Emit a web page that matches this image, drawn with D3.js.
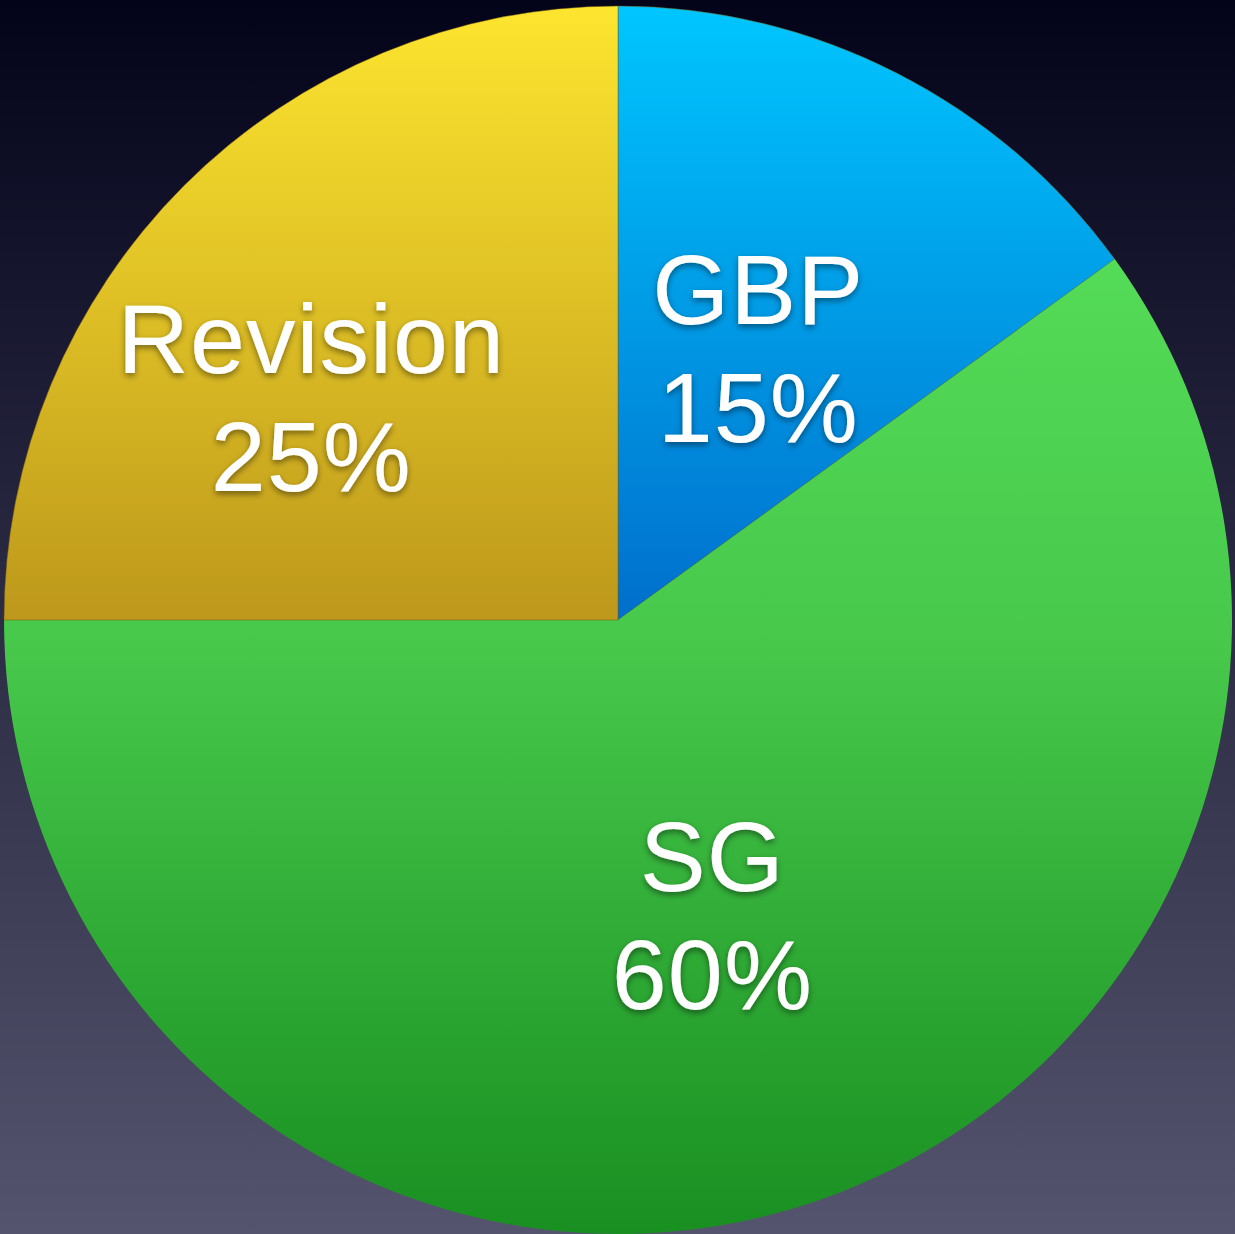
<!DOCTYPE html>
<html>
<head>
<meta charset="utf-8">
<script src="https://cdn.jsdelivr.net/npm/d3@7"></script>
<style>
  html, body { margin: 0; padding: 0; overflow: hidden; }
  body { width: 1235px; height: 1234px; }
</style>
</head>
<body>
<div class="chart"></div>
<script>
// data
const categories = ["GBP", "SG", "Revision"];
const shares = [15, 60, 25];
const labels = ["15%", "60%", "25%"];

// slice gradient colours (top, bottom)
const topColors = ["#00c6ff", "#54db57", "#fde52f"];
const bottomColors = ["#006fcc", "#198f21", "#bd981b"];
// small nudges so labels sit where the original put them
const nudge = [[-13, 30], [-10, -25], [-68, 17]];

const width = 1235, height = 1234;
const cx = 618, cy = 620, radius = 614;

const svg = d3.select(".chart").append("svg")
    .attr("width", width)
    .attr("height", height);

const defs = svg.append("defs");

const bg = defs.append("linearGradient")
    .attr("id", "bg")
    .attr("x1", 0).attr("y1", 0).attr("x2", 0).attr("y2", 1);
bg.append("stop").attr("offset", "0%").attr("stop-color", "#03031a");
bg.append("stop").attr("offset", "100%").attr("stop-color", "#55546e");

categories.forEach((c, i) => {
    const g = defs.append("linearGradient")
        .attr("id", "grad" + i)
        .attr("x1", 0).attr("y1", 0).attr("x2", 0).attr("y2", 1);
    g.append("stop").attr("offset", "0%").attr("stop-color", topColors[i]);
    if (c === "SG") {
        // green stays bright longer before darkening
        g.append("stop").attr("offset", "40%").attr("stop-color", "#47c84b");
    }
    g.append("stop").attr("offset", "100%").attr("stop-color", bottomColors[i]);
});

const shadow = defs.append("filter")
    .attr("id", "shadow")
    .attr("x", "-20%").attr("y", "-20%")
    .attr("width", "140%").attr("height", "140%");
shadow.append("feDropShadow")
    .attr("dx", 0).attr("dy", 3)
    .attr("stdDeviation", 3)
    .attr("flood-color", "#000")
    .attr("flood-opacity", 0.45);

svg.append("rect")
    .attr("width", width)
    .attr("height", height)
    .attr("fill", "url(#bg)");

const g = svg.append("g")
    .attr("transform", "translate(" + cx + "," + cy + ")");

const pie = d3.pie().sort(null).value(d => d.value);
const data = categories.map((c, i) => ({name: c, value: shares[i], label: labels[i], i: i}));
const arcs = pie(data);

const arc = d3.arc().innerRadius(0).outerRadius(radius);
const labelArc = d3.arc().innerRadius(0).outerRadius(radius * 1.1);

g.selectAll(".slice")
    .data(arcs)
    .enter()
    .append("path")
    .attr("class", "slice")
    .attr("d", arc)
    .attr("fill", d => "url(#grad" + d.data.i + ")")
    .attr("stroke", d => d.data.name === "SG" ? "none" : "rgba(120,90,10,0.6)")
    .attr("stroke-width", d => d.data.name === "SG" ? 0 : 0.8);

const texts = g.selectAll(".label")
    .data(arcs)
    .enter()
    .append("text")
    .attr("class", "label")
    .attr("transform", d => {
        const c = labelArc.centroid(d);
        const n = nudge[d.data.i];
        return "translate(" + (c[0] + n[0]) + "," + (c[1] + n[1]) + ")";
    })
    .attr("text-anchor", "middle")
    .attr("font-family", "'Liberation Sans', Arial, Helvetica, sans-serif")
    .attr("font-size", 99)
    .attr("letter-spacing", 1)
    .attr("fill", "#fff")
    .attr("filter", "url(#shadow)");

texts.append("tspan")
    .attr("x", 0)
    .attr("y", -25)
    .text(d => d.data.name);
texts.append("tspan")
    .attr("x", 0)
    .attr("y", 93)
    .text(d => d.data.label);
</script>
</body>
</html>
